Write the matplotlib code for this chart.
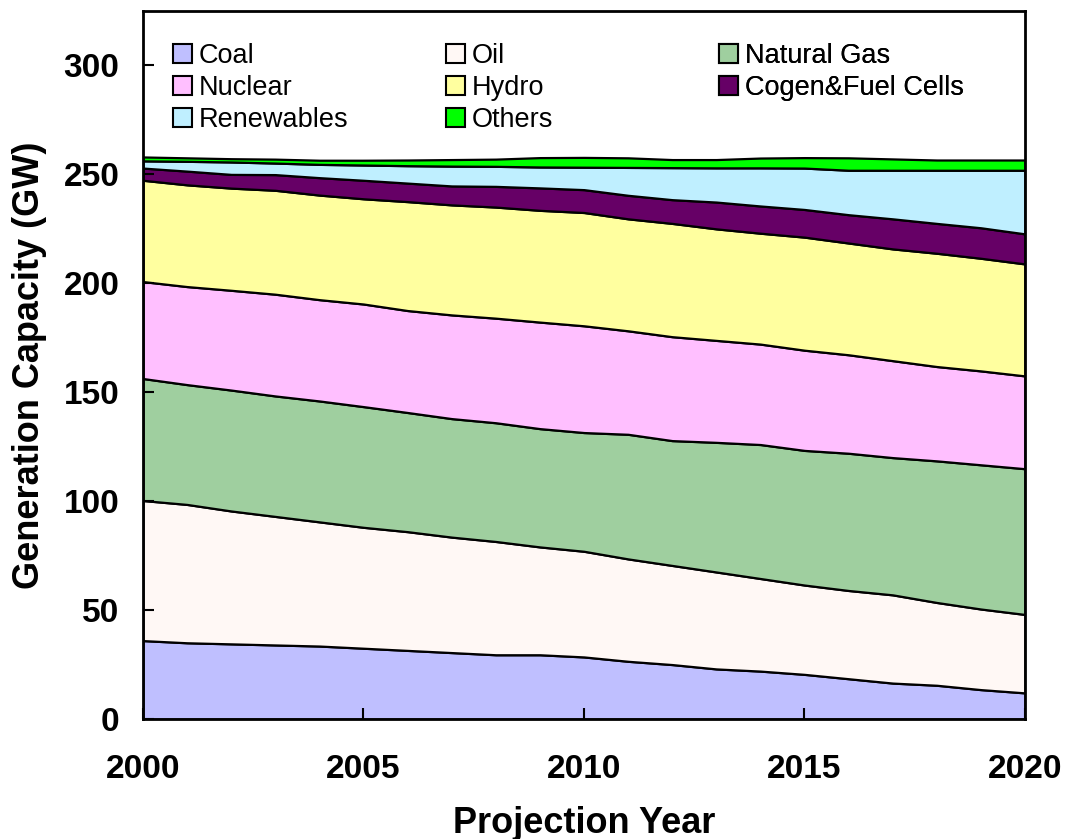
import matplotlib
matplotlib.use('Agg')
import matplotlib.pyplot as plt
import numpy as np

years = list(range(2000, 2021))

coal = [36, 35, 34.5, 34, 33.5, 32.5, 31.5, 30.5, 29.5, 29.5, 28.5,
        26.5, 25, 23, 22, 20.5, 18.5, 16.5, 15.5, 13.5, 12]
oil = [64.3, 63.5, 61, 59, 57, 55.5, 54.5, 53, 52, 49.5, 48.5,
       47, 45.5, 44.5, 42.5, 41, 40.5, 40.5, 38, 37, 36]
natural_gas = [56, 55, 55.5, 55.3, 55.5, 55.4, 54.7, 54.4, 54.5, 54.3, 54.5,
               57.2, 57.3, 59.5, 61.5, 61.8, 63, 63, 65, 66.2, 66.9]
nuclear = [44.5, 45, 45.8, 46.7, 46.5, 47.1, 46.8, 47.6, 48, 48.9, 49,
           47.5, 47.7, 46.8, 46.1, 46, 45.2, 44.5, 43.3, 43.1, 42.6]
hydro = [46.5, 46.7, 46.9, 47.7, 48, 48.3, 50, 50.5, 51, 51.3, 52,
         51.4, 52, 51.2, 50.9, 51.9, 51.3, 51.3, 52, 51.7, 51.4]
cogen = [5.6, 6.3, 6.3, 7.2, 8, 8.5, 8.5, 8.7, 9.5, 10.3, 10.5,
         10.8, 10.9, 12.3, 12.5, 12.7, 13, 13.8, 13.7, 14, 13.8]
renewables = [3.3, 4.5, 5.7, 5.3, 6.1, 7, 8, 9.1, 9.2, 9.6, 10.3,
              12.8, 14.7, 15.7, 17.5, 19, 20.4, 22.3, 24.4, 26.4, 29.2]
others = [1.8, 1.6, 1.5, 1.8, 1.9, 2.2, 2.6, 3, 3.3, 4.3, 4.5,
          4.4, 3.7, 3.8, 4.5, 4.8, 5.7, 5.2, 4.7, 4.7, 4.7]

labels = ['Coal', 'Oil', 'Natural Gas', 'Nuclear', 'Hydro',
          'Cogen&Fuel Cells', 'Renewables', 'Others']
colors = ['#BFBFFF', '#FFF8F5', '#9FCF9F', '#FFBFFF', '#FFFF9F',
          '#660066', '#BFEFFF', '#00FF00']

plt.rcParams['font.family'] = ['Liberation Sans', 'DejaVu Sans']

fig = plt.figure(figsize=(10.68, 8.39), dpi=100)
ax = fig.add_axes([0.1339, 0.143, 0.8258, 0.8439])

polys = ax.stackplot(years, coal, oil, natural_gas, nuclear, hydro, cogen,
                     renewables, others, colors=colors, labels=labels,
                     edgecolor='black', linewidth=1.6)

ax.set_xlim(2000, 2020)
ax.set_ylim(0, 325)
ax.set_xticks([2000, 2005, 2010, 2015, 2020])
ax.set_yticks([0, 50, 100, 150, 200, 250, 300])
ax.tick_params(direction='in', length=8, width=1.5, labelsize=24)
ax.tick_params(axis='y', pad=17)
ax.tick_params(axis='x', pad=25)
for lab in ax.get_xticklabels() + ax.get_yticklabels():
    lab.set_fontweight('bold')
for s in ax.spines.values():
    s.set_linewidth(2)

ax.set_xlabel('Projection Year', fontsize=26, fontweight='bold', labelpad=15)
ax.set_ylabel('Generation Capacity (GW)', fontsize=26, fontweight='bold', labelpad=12)

# legend in three equal-width columns (row order like Excel)
cols = [[0, 3, 6], [1, 4, 7], [2, 5]]
xs = [0.022, 0.331, 0.641]
for i, c in enumerate(cols):
    leg = ax.legend([polys[k] for k in c], [labels[k] for k in c],
                    loc='upper left', bbox_to_anchor=(xs[i], 0.97),
                    frameon=False, fontsize=19.5, handlelength=0.7,
                    handleheight=0.7, handletextpad=0.25, labelspacing=0.22,
                    borderaxespad=0)
    for h in leg.legend_handles:
        h.set_linewidth(1.5)
    ax.add_artist(leg)

fig.savefig('out.png', dpi=100)
